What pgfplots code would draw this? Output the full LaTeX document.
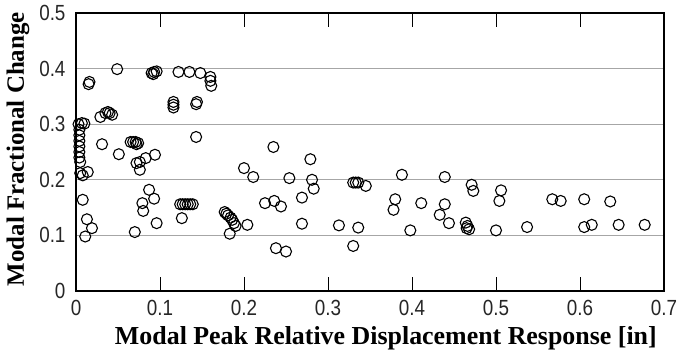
\documentclass[border=0pt]{standalone}
\usepackage{fontspec}
\setmainfont{Liberation Serif}
\newfontfamily\tickfont[FakeStretch=0.86]{Liberation Sans}
\usepackage{pgfplots}
\pgfplotsset{compat=1.18}
\usetikzlibrary{calc}
\begin{document}
\begin{tikzpicture}
\begin{axis}[
  name=ax,
  at={(0,0)}, anchor=south west,
  width=588bp, height=278bp, scale only axis,
  xmin=0, xmax=0.7, ymin=0, ymax=0.5,
  ytick={0,0.1,0.2,0.3,0.4,0.5},
  yticklabels={0,0.1,0.2,0.3,0.4,0.5},
  tick align=inside,
  xtick pos=both,
  x tick style={black, line width=1bp},
  xtick={0.1,0.2,0.3,0.4,0.5,0.6},
  xticklabels={0.1,0.2,0.3,0.4,0.5,0.6},
  extra x ticks={0,0.7},
  extra x tick labels={0,0.7},
  extra x tick style={major tick length=0pt},
  major tick length=14bp,
  y tick style={draw=none},
  ymajorgrids,
  grid style={gray!70, line width=1bp},
  axis line style={black, line width=1.3bp},
  ticklabel style={font=\tickfont\fontsize{22}{22}\selectfont, text=black!85},
  /pgf/number format/assume math mode=true,
  yticklabel style={anchor=east, xshift=-7bp},
  xticklabel style={anchor=north, yshift=-6bp},
  xlabel={\textbf{Modal Peak Relative Displacement Response [in]}},
  ylabel={\textbf{Modal Fractional Change}},
  xlabel style={font=\fontsize{26}{26}\selectfont, at={(axis description cs:0.527,0)}, anchor=center, yshift=-47bp},
  ylabel style={font=\fontsize{25}{25}\selectfont, at={(axis description cs:0,0.51)}, anchor=center, yshift=58bp},
  clip=false,
]
\addplot[only marks, mark=o, mark size=5.5bp, mark options={line width=1.1bp, black}] table {
x y
0.003 0.300
0.007 0.302
0.010 0.301
0.004 0.290
0.004 0.280
0.004 0.270
0.004 0.260
0.004 0.250
0.004 0.240
0.005 0.232
0.005 0.212
0.008 0.208
0.014 0.214
0.008 0.164
0.013 0.129
0.019 0.113
0.011 0.098
0.016 0.376
0.015 0.372
0.049 0.399
0.029 0.313
0.035 0.320
0.038 0.322
0.040 0.320
0.043 0.317
0.031 0.264
0.051 0.246
0.065 0.268
0.068 0.268
0.071 0.268
0.074 0.266
0.072 0.264
0.072 0.230
0.076 0.232
0.083 0.239
0.094 0.245
0.076 0.218
0.090 0.392
0.093 0.394
0.096 0.395
0.092 0.390
0.116 0.330
0.116 0.335
0.116 0.340
0.122 0.394
0.135 0.394
0.148 0.392
0.160 0.385
0.161 0.369
0.160 0.378
0.144 0.340
0.143 0.336
0.143 0.277
0.087 0.182
0.079 0.158
0.093 0.166
0.080 0.144
0.096 0.122
0.070 0.106
0.124 0.156
0.127 0.156
0.130 0.156
0.133 0.156
0.136 0.156
0.139 0.156
0.126 0.131
0.200 0.221
0.211 0.205
0.177 0.142
0.179 0.139
0.181 0.136
0.184 0.132
0.186 0.128
0.190 0.117
0.183 0.103
0.204 0.119
0.188 0.122
0.225 0.158
0.236 0.162
0.244 0.152
0.235 0.259
0.279 0.237
0.254 0.203
0.281 0.200
0.283 0.184
0.269 0.168
0.330 0.195
0.333 0.195
0.336 0.195
0.345 0.189
0.388 0.209
0.380 0.165
0.378 0.146
0.269 0.121
0.313 0.118
0.336 0.114
0.398 0.109
0.238 0.077
0.250 0.071
0.330 0.081
0.439 0.205
0.471 0.191
0.473 0.180
0.506 0.181
0.504 0.162
0.411 0.158
0.439 0.156
0.433 0.137
0.444 0.122
0.464 0.123
0.465 0.113
0.468 0.111
0.466 0.117
0.500 0.109
0.537 0.115
0.567 0.165
0.577 0.162
0.605 0.165
0.636 0.161
0.605 0.115
0.614 0.119
0.646 0.119
0.677 0.119
};
\end{axis}
\pgfresetboundingbox
\path[use as bounding box] ($(ax.south west)+(-76bp,-65bp)$) rectangle ($(ax.north east)+(17bp,13bp)$);
\end{tikzpicture}
\end{document}
